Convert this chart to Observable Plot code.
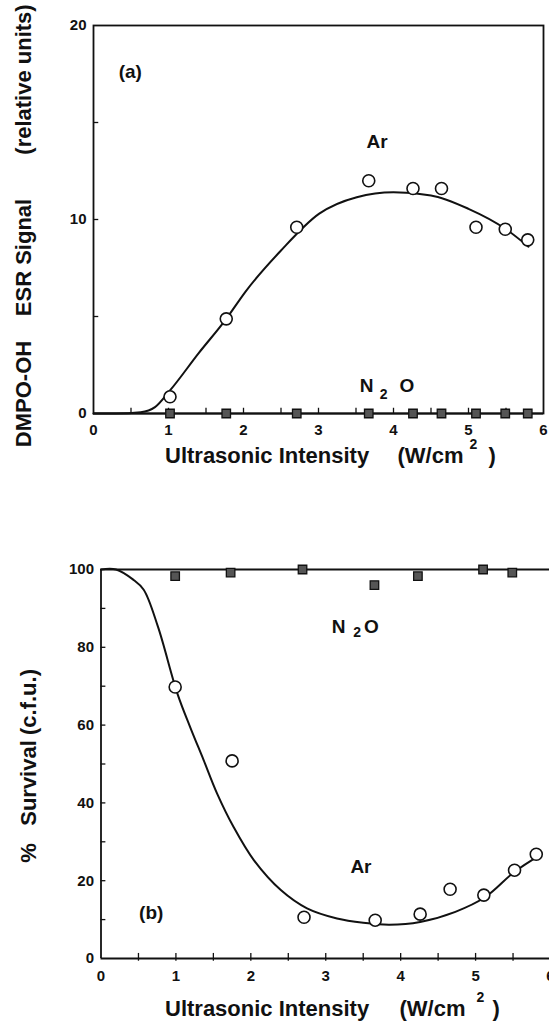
<!DOCTYPE html>
<html><head><meta charset="utf-8">
<script src="https://cdn.jsdelivr.net/npm/d3@7"></script>
<script src="https://cdn.jsdelivr.net/npm/@observablehq/plot@0.6"></script>
<style>
html,body{margin:0;padding:0;background:#fff;overflow:hidden;width:549px;height:1026px;}
#chart svg{display:block;max-width:none !important;}
</style></head><body><div id="chart"></div>
<script>
// ---------- Panel (a): DMPO-OH ESR signal ----------
const intensityA = [1.02, 1.77, 2.71, 3.67, 4.26, 4.64, 5.10, 5.49, 5.79];
const esrAr      = [0.86, 4.88, 9.6, 12.0, 11.6, 11.6, 9.6, 9.5, 8.95];
const esrN2O     = [0, 0, 0, 0, 0, 0, 0, 0, 0];
const fitAx = [0, 0.3, 0.63, 0.82, 1.02, 1.4, 1.77, 2.03, 2.5, 3.01, 3.51, 4.0, 4.5, 5.0, 5.5, 5.8];
const fitAy = [0, 0, 0.07, 0.33, 1.19, 3.1, 4.88, 6.3, 8.4, 10.3, 11.15, 11.4, 11.24, 10.55, 9.5, 8.6];
const xTickLabels = [0, 1, 2, 3, 4, 5, 6];
const xTickMarks = [0.5, 1, 1.5, 2, 2.5, 3, 3.5, 4, 4.5, 5, 5.5];
const yTickLabelsA = [0, 10, 20];
const yTickMarksA = [5, 10, 15];
const yTitleA = ["DMPO-OH", "ESR Signal", "(relative units)"];

// ---------- Panel (b): % survival ----------
const intensityBN2O = [0.99, 1.73, 2.69, 3.65, 4.23, 5.10, 5.49];
const survN2O       = [98.3, 99.2, 100, 96, 98.3, 100, 99.2];
const intensityBAr  = [0.99, 1.75, 2.71, 3.66, 4.26, 4.66, 5.11, 5.52, 5.81];
const survAr        = [69.8, 50.8, 10.6, 9.85, 11.4, 17.8, 16.3, 22.7, 26.8];
const fitBx = [0, 0.2, 0.43, 0.57, 0.76, 1.02, 1.19, 1.37, 1.55, 1.77, 2.04, 2.40, 2.75, 3.15, 3.5, 3.85, 4.26, 4.73, 5.13, 5.52, 5.86];
const fitBy = [100, 100, 97.4, 94.8, 85.3, 68.1, 59.5, 51, 42.4, 33.8, 25.3, 17.6, 12.9, 10.3, 9.2, 8.7, 9.4, 12, 15.8, 22.3, 26.6];
const yTickLabelsB = [0, 20, 40, 60, 80, 100];
const yTickMarksB = [10, 20, 30, 40, 50, 60, 70, 80, 90];
const yTitleB = ["%", "Survival", "(c.f.u.)"];

const xTitle = ["Ultrasonic Intensity", "(W/cm", "2", ")"];

const font = "'Liberation Sans', Arial, Helvetica, sans-serif";
const ink = "#111";
const baseStyle = {fontFamily: font, fontWeight: "bold", fontSize: "15px", background: "white", color: ink, overflow: "visible"};
const lab = {fontFamily: font, fontWeight: "bold", fill: ink};

const ptsA = intensityA.map((x, i) => ({x, ar: esrAr[i], n2o: esrN2O[i]}));
const fitA = fitAx.map((x, i) => ({x, y: fitAy[i]}));
const ptsBN = intensityBN2O.map((x, i) => ({x, y: survN2O[i]}));
const ptsBA = intensityBAr.map((x, i) => ({x, y: survAr[i]}));
const fitB = fitBx.map((x, i) => ({x, y: fitBy[i]}));

function xTitleMarks(dxStart, dxParen, dxSup, dxClose, dy) {
  return [
    Plot.text([xTitle[0]], {text: d => d, frameAnchor: "bottom-left", dx: dxStart, dy, textAnchor: "start", fontSize: 22, ...lab}),
    Plot.text([xTitle[1]], {text: d => d, frameAnchor: "bottom-left", dx: dxParen, dy, textAnchor: "start", fontSize: 22, ...lab}),
    Plot.text([xTitle[2]], {text: d => d, frameAnchor: "bottom-left", dx: dxSup, dy: dy - 14, textAnchor: "middle", fontSize: 14, ...lab}),
    Plot.text([xTitle[3]], {text: d => d, frameAnchor: "bottom-left", dx: dxClose, dy, textAnchor: "start", fontSize: 22, ...lab})
  ];
}

function yTitleMark(t, dx, dy) {
  return Plot.text([t], {text: d => d, frameAnchor: "left", textAnchor: "middle", lineAnchor: "middle", rotate: -90, dx, dy, fontSize: 22, ...lab});
}

const plotA = Plot.plot({
  width: 549, height: 490,
  marginLeft: 93, marginRight: 6, marginTop: 25, marginBottom: 77,
  style: baseStyle,
  x: {domain: [0, 6], ticks: xTickLabels, tickSize: 0, tickPadding: 11, label: null, tickFormat: d => d},
  y: {domain: [0, 20], ticks: yTickLabelsA, tickSize: 0, tickPadding: 7, label: null, tickFormat: d => d},
  marks: [
    Plot.ruleX(xTickMarks, {x: d => d, y1: 0, y2: 0.27, stroke: ink, strokeWidth: 1.3}),
    Plot.ruleY(yTickMarksA, {y: d => d, x1: 0, x2: 0.07, stroke: ink, strokeWidth: 1.3}),
    Plot.frame({stroke: ink, strokeWidth: 1.8}),
    Plot.ruleY([0], {stroke: ink, strokeWidth: 2}),
    Plot.line(fitA, {x: "x", y: "y", curve: "monotone-x", stroke: ink, strokeWidth: 2}),
    Plot.dot(ptsA, {x: "x", y: "n2o", symbol: "square", r: 4.8, fill: "#555", stroke: ink, strokeWidth: 1.3}),
    Plot.dot(ptsA, {x: "x", y: "ar", r: 6, fill: "white", stroke: ink, strokeWidth: 1.6}),
    Plot.text(["(a)"], {text: d => d, x: 0.49, y: 17.6, fontSize: 19, ...lab}),
    Plot.text(["Ar"], {text: d => d, x: 3.78, y: 14.0, fontSize: 19, ...lab}),
    Plot.text(["N"], {text: d => d, x: 3.64, y: 1.44, fontSize: 19, ...lab}),
    Plot.text(["2"], {text: d => d, x: 3.87, y: 1.0, fontSize: 14, ...lab}),
    Plot.text(["O"], {text: d => d, x: 4.18, y: 1.44, fontSize: 19, ...lab}),
    yTitleMark(yTitleA[0], -70, 174.5),
    yTitleMark(yTitleA[1], -70, 38),
    yTitleMark(yTitleA[2], -70, -140),
    ...xTitleMarks(71.5, 304, 380, 395, 49)
  ]
});

const plotB = Plot.plot({
  width: 550, height: 536,
  marginLeft: 100.5, marginRight: 0, marginTop: 79, marginBottom: 68,
  style: baseStyle,
  x: {domain: [0, 6], ticks: xTickLabels, tickSize: 0, tickPadding: 12, label: null, tickFormat: d => d},
  y: {domain: [0, 100], ticks: yTickLabelsB, tickSize: 0, tickPadding: 7, label: null, tickFormat: d => d},
  marks: [
    Plot.ruleX(xTickMarks, {x: d => d, y1: -0.7, y2: 1.3, stroke: ink, strokeWidth: 1.3}),
    Plot.ruleY(yTickMarksB, {y: d => d, x1: 0, x2: 0.065, stroke: ink, strokeWidth: 1.3}),
    Plot.ruleX([0], {y1: 0, y2: 100, stroke: ink, strokeWidth: 1.8}),
    Plot.ruleY([0], {stroke: ink, strokeWidth: 2}),
    Plot.ruleY([100], {stroke: ink, strokeWidth: 1.8}),
    Plot.line(fitB, {x: "x", y: "y", curve: "catmull-rom", stroke: ink, strokeWidth: 2}),
    Plot.dot(ptsBN, {x: "x", y: "y", symbol: "square", r: 4.8, fill: "#555", stroke: ink, strokeWidth: 1.3}),
    Plot.dot(ptsBA, {x: "x", y: "y", r: 6, fill: "white", stroke: ink, strokeWidth: 1.6}),
    Plot.text(["(b)"], {text: d => d, x: 0.67, y: 11.7, fontSize: 19, ...lab}),
    Plot.text(["Ar"], {text: d => d, x: 3.47, y: 23.5, fontSize: 19, ...lab}),
    Plot.text(["N"], {text: d => d, x: 3.17, y: 85.3, fontSize: 19, ...lab}),
    Plot.text(["2"], {text: d => d, x: 3.42, y: 83.8, fontSize: 14, ...lab}),
    Plot.text(["O"], {text: d => d, x: 3.61, y: 85.3, fontSize: 19, ...lab}),
    yTitleMark(yTitleB[0], -72.5, 89),
    yTitleMark(yTitleB[1], -72.5, 19),
    yTitleMark(yTitleB[2], -72.5, -62),
    ...xTitleMarks(64, 298.5, 379.5, 391.5, 57)
  ]
});

document.getElementById("chart").append(plotA, plotB);
</script>
</body></html>
